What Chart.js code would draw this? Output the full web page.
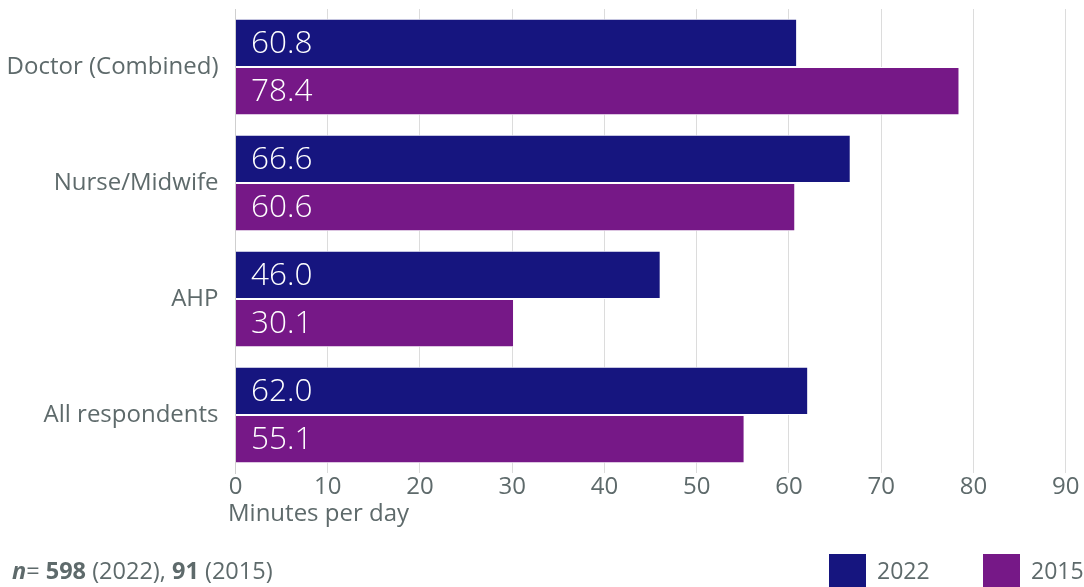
<!DOCTYPE html>
<html>
<head>
<meta charset="utf-8">
<script src="https://cdn.jsdelivr.net/npm/chart.js@4/dist/chart.umd.min.js"></script>
<style>
  html, body { margin: 0; padding: 0; background: #fff; }
  #wrap { position: relative; width: 1084px; height: 587px; overflow: hidden; font-family: "Open Sans", sans-serif; color: #5e6a6b; }
  #chart { position: absolute; left: 0; top: 0; }
  .axis-title { position: absolute; left: 228px; top: 496px; font-size: 24px; line-height: 32px; }
  .note { position: absolute; left: 12px; top: 554px; font-size: 23.5px; line-height: 32px; }
  .legend { position: absolute; top: 554px; display: flex; align-items: center; font-size: 23px; line-height: 33px; }
  .legend .sw { width: 37px; height: 33px; margin-right: 11px; }
</style>
</head>
<body>
<div id="wrap">
  <canvas id="chart" width="1084" height="587"></canvas>
  <div class="axis-title">Minutes per day</div>
  <div class="note"><b><i>n</i></b>= <b>598</b> (2022), <b>91</b> (2015)</div>
  <div class="legend" style="left:829px"><div class="sw" style="background:#16157f"></div>2022</div>
  <div class="legend" style="left:983px"><div class="sw" style="background:#761887"></div>2015</div>
</div>
<script>
const categories = ["Doctor (Combined)", "Nurse/Midwife", "AHP", "All respondents"];
const values2022 = [60.8, 66.6, 46.0, 62.0];
const values2015 = [78.4, 60.6, 30.1, 55.1];
const xTicks = [0, 10, 20, 30, 40, 50, 60, 70, 80, 90];

const textGrey = "#5e6a6b";

// Writes each bar's value in white just inside its left end
const valueLabels = {
  id: "valueLabels",
  afterDatasetsDraw(chart) {
    const ctx = chart.ctx;
    ctx.save();
    ctx.fillStyle = "#ffffff";
    ctx.font = "300 31.5px 'Open Sans'";
    ctx.textBaseline = "middle";
    ctx.textAlign = "left";
    chart.data.datasets.forEach((ds, i) => {
      chart.getDatasetMeta(i).data.forEach((bar, j) => {
        ctx.fillText(ds.data[j].toFixed(1), bar.base + 15, bar.y + 1);
      });
    });
    ctx.restore();
  }
};

new Chart(document.getElementById("chart"), {
  type: "bar",
  data: {
    labels: categories,
    datasets: [
      { label: "2022", data: values2022, backgroundColor: "#16157f", borderColor: "#ffffff", borderWidth: { top: 1, bottom: 1, right: 0, left: 0 }, borderSkipped: false },
      { label: "2015", data: values2015, backgroundColor: "#761887", borderColor: "#ffffff", borderWidth: { top: 1, bottom: 1, right: 0, left: 0 }, borderSkipped: false }
    ]
  },
  options: {
    indexAxis: "y",
    responsive: false,
    animation: false,
    layout: { padding: { left: 0, right: 18.3, top: 9, bottom: 0 } },
    plugins: { legend: { display: false }, tooltip: { enabled: false } },
    datasets: { bar: { barPercentage: 1.0, categoryPercentage: 0.83 } },
    scales: {
      x: {
        min: 0, max: 90,
        afterBuildTicks(scale) { scale.ticks = xTicks.map(v => ({ value: v })); },
        afterFit(scale) { scale.height = 114; },
        grid: { color: "#dcdcdc", lineWidth: 1, drawTicks: false },
        border: { display: false },
        ticks: { color: textGrey, font: { family: "Open Sans", size: 24 }, padding: 0 }
      },
      y: {
        afterFit(scale) { scale.width = 235.5; scale.paddingTop = 0; scale.paddingBottom = 0; },
        grid: { display: false },
        border: { display: true, color: "#cfcfcf", width: 1 },
        ticks: { color: textGrey, font: { family: "Open Sans", size: 24 }, padding: 9 }
      }
    }
  },
  plugins: [valueLabels]
});
</script>
</body>
</html>
